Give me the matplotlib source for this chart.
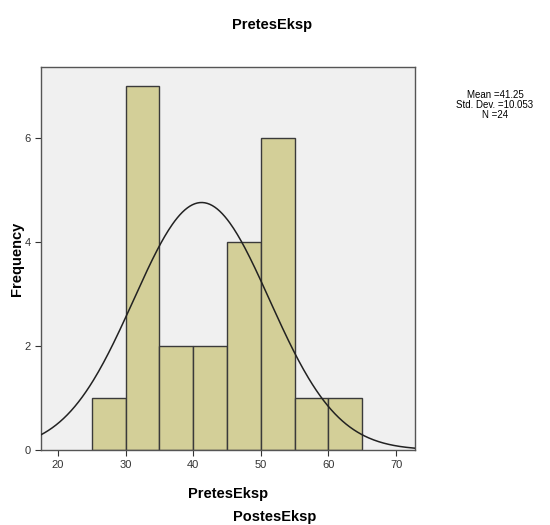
import numpy as np
import matplotlib
matplotlib.use("Agg")
import matplotlib.pyplot as plt

plt.rcParams['font.family'] = ['Liberation Sans', 'DejaVu Sans']

# histogram data
bin_edges = [25, 30, 35, 40, 45, 50, 55, 60, 65]
counts = [1, 7, 2, 2, 4, 6, 1, 1]
mean = 41.25
std = 10.053
n = 24

fig = plt.figure(figsize=(5.5, 5.25), dpi=100)
ax = fig.add_axes([0.0745, 0.1429, 0.68, 0.7295])
ax.set_facecolor('#f0f0f0')

widths = np.diff(bin_edges)
ax.bar(bin_edges[:-1], counts, width=widths, align='edge',
       color='#d3cf98', edgecolor='#3a3a3a', linewidth=1.0, zorder=2)

# normal curve scaled to counts
xs = np.linspace(17.5, 72.8, 300)
ys = n * widths[0] * np.exp(-0.5 * ((xs - mean) / std) ** 2) / (std * np.sqrt(2 * np.pi))
ax.plot(xs, ys, color='#222222', linewidth=1.1, zorder=3)

ax.set_xlim(17.5, 72.8)
ax.set_ylim(0, 7.37)
ax.set_xticks([20, 30, 40, 50, 60, 70])
ax.set_yticks([0, 2, 4, 6])
ax.tick_params(labelsize=8, colors='#333333', length=4, direction='out')
for s in ax.spines.values():
    s.set_color('#555555')
    s.set_linewidth(1.0)

ax.set_xlabel('PretesEksp', fontsize=10.5, fontweight='bold', labelpad=12)
ax.set_ylabel('Frequency', fontsize=10.5, fontweight='bold', labelpad=0)

fig.text(0.495, 0.952, 'PretesEksp', fontsize=10.5, fontweight='bold', ha='center', va='center')
fig.text(0.90, 0.80, 'Mean =41.25\nStd. Dev. =10.053\nN =24', fontsize=7,
         ha='center', va='center', linespacing=0.95)
fig.text(0.50, 0.015, 'PostesEksp', fontsize=10.5, fontweight='bold', ha='center', va='center')

fig.savefig('out.png', dpi=100)
